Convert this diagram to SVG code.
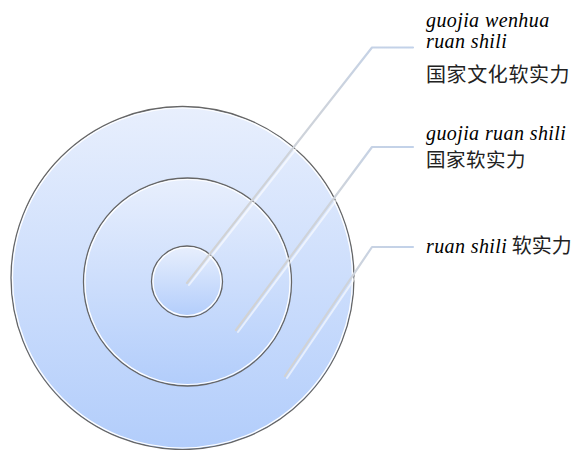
<svg xmlns="http://www.w3.org/2000/svg" width="579" height="450" viewBox="0 0 579 450">
<defs>
<linearGradient id="fillG" x1="0" y1="0" x2="0" y2="1">
<stop offset="0" stop-color="#e8effd"/>
<stop offset="1" stop-color="#b2cdfb"/>
</linearGradient>
<linearGradient id="ln1" gradientUnits="userSpaceOnUse" x1="187" y1="283" x2="413" y2="47">
<stop offset="0" stop-color="#d2d2d2"/>
<stop offset="0.7" stop-color="#cdd3dc"/>
<stop offset="1" stop-color="#c2d2ea"/>
</linearGradient>
<linearGradient id="ln2" gradientUnits="userSpaceOnUse" x1="236" y1="330" x2="413" y2="147">
<stop offset="0" stop-color="#d2d2d2"/>
<stop offset="0.7" stop-color="#cdd3dc"/>
<stop offset="1" stop-color="#c2d2ea"/>
</linearGradient>
<linearGradient id="ln3" gradientUnits="userSpaceOnUse" x1="285" y1="376" x2="413" y2="247">
<stop offset="0" stop-color="#d2d2d2"/>
<stop offset="0.7" stop-color="#cdd3dc"/>
<stop offset="1" stop-color="#c2d2ea"/>
</linearGradient>
</defs>
<style>
.ring{fill:url(#fillG);stroke:#666666;stroke-width:1.3}
.hi{fill:none;stroke:#ffffff;stroke-width:1.2}
.conn{fill:none;stroke-width:2.2;stroke-linecap:round;stroke-linejoin:round}
.shadow{fill:none;stroke:#ffffff;stroke-opacity:0.6;stroke-width:2;stroke-linecap:round}
.it{font-family:"Liberation Serif",serif;font-style:italic;font-size:20px;letter-spacing:0.4px;fill:#000}
.cjk{font-family:"Noto Sans CJK SC",sans-serif;font-size:20px;fill:#222}
</style>
<g id="outer">
<circle class="ring" cx="182.5" cy="278" r="171.5"/>
<circle class="hi" cx="182.5" cy="278" r="170"/>
</g>
<g id="middle">
<circle class="ring" cx="187.5" cy="282" r="104"/>
<circle class="hi" cx="187.5" cy="282" r="102.5"/>
</g>
<g id="inner">
<circle class="ring" cx="187" cy="281.5" r="35.5"/>
<circle class="hi" cx="187" cy="281.5" r="34"/>
</g>
<g id="connectors">
<polyline class="shadow" points="189,285 374,50 415,50"/>
<polyline class="conn" stroke="url(#ln1)" points="187,283 372,47.5 413,47.5"/>
<polyline class="shadow" points="238,332 374,150 415,150"/>
<polyline class="conn" stroke="url(#ln2)" points="236,330 372,147 413,147"/>
<polyline class="shadow" points="287,378 374,250 415,250"/>
<polyline class="conn" stroke="url(#ln3)" points="285,376 372,247 413,247"/>
</g>
<g id="label1">
<text class="it" x="426" y="27">guojia wenhua</text>
<text class="it" x="426" y="48">ruan shili</text>
<text class="cjk" x="426" y="82" letter-spacing="0.6">国家文化软实力</text>
</g>
<g id="label2">
<text class="it" x="426" y="140">guojia ruan shili</text>
<text class="cjk" x="426" y="167" style="font-size:19.5px" letter-spacing="0.5">国家软实力</text>
</g>
<g id="label3">
<text x="426" y="253"><tspan class="it">ruan shili</tspan><tspan class="cjk"> 软实力</tspan></text>
</g>
</svg>
